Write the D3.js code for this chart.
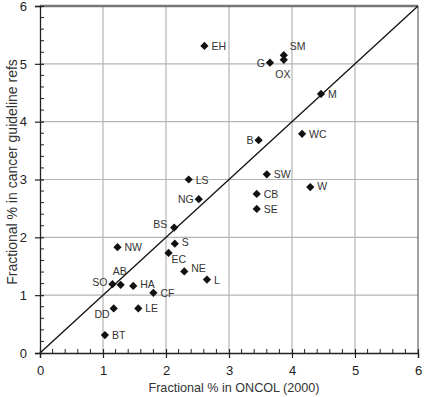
<!DOCTYPE html>
<html>
<head>
<meta charset="utf-8">
<script src="https://cdn.jsdelivr.net/npm/d3@7"></script>
<style>
  body { margin: 0; background: #fff; }
  text { font-family: "Liberation Sans", Arial, sans-serif; }
</style>
</head>
<body>
<svg id="chart" width="424" height="397"></svg>
<script>
// data
const names = ["EH", "SM", "OX", "G", "M", "WC", "B", "SW", "W", "CB", "SE", "LS", "NG", "BS", "S", "EC", "NE", "L", "NW", "SO", "AB", "HA", "CF", "DD", "LE", "BT"];
const oncol = [2.61, 3.87, 3.87, 3.65, 4.46, 4.16, 3.47, 3.60, 4.29, 3.44, 3.44, 2.36, 2.52, 2.13, 2.14, 2.04, 2.29, 2.65, 1.23, 1.15, 1.28, 1.48, 1.80, 1.17, 1.56, 1.03];
const guideline = [5.31, 5.15, 5.07, 5.02, 4.48, 3.79, 3.68, 3.09, 2.87, 2.75, 2.49, 3.00, 2.66, 2.17, 1.89, 1.73, 1.41, 1.27, 1.83, 1.19, 1.18, 1.16, 1.04, 0.77, 0.77, 0.31];
const xTicks = [0, 1, 2, 3, 4, 5, 6];
const yTicks = [0, 1, 2, 3, 4, 5, 6];

// where each label sits relative to its point
const labelPlace = {
  EH: [7, 4, "start"], SM: [6, -5, "start"], OX: [-1, 18, "middle"], G: [-5, 4, "end"],
  M: [7, 4, "start"], WC: [7, 4, "start"], B: [-5, 4, "end"], SW: [7, 4, "start"],
  W: [7, 3, "start"], CB: [7, 4, "start"], SE: [7, 4, "start"], LS: [7, 4, "start"],
  NG: [-5, 4, "end"], BS: [-7, 0, "end"], S: [7, 2, "start"], EC: [3, 10, "start"],
  NE: [7, 1, "start"], L: [7, 4, "start"], NW: [7, 4, "start"], SO: [-5, 2, "end"],
  AB: [-1, -10, "middle"], HA: [7, 2, "start"], CF: [7, 4, "start"], DD: [-4, 10, "end"],
  LE: [7, 4, "start"], BT: [7, 4, "start"]
};

const margin = {top: 6, right: 6, bottom: 44, left: 40};
const width = 424 - margin.left - margin.right;
const height = 397 - margin.top - margin.bottom;

const svg = d3.select("#chart");
const g = svg.append("g").attr("transform", "translate(" + margin.left + "," + margin.top + ")");

const x = d3.scaleLinear().domain([0, 6]).range([0, width]);
const y = d3.scaleLinear().domain([0, 6]).range([height, 0]);

/* grid lines */
g.append("g")
  .selectAll("line.vgrid")
  .data(xTicks.slice(1, -1))
  .enter().append("line")
  .attr("x1", d => x(d)).attr("x2", d => x(d))
  .attr("y1", 0).attr("y2", height)
  .attr("stroke", "#b4b4b4").attr("stroke-width", 1.2);

g.append("g")
  .selectAll("line.hgrid")
  .data(yTicks.slice(1, -1))
  .enter().append("line")
  .attr("x1", 0).attr("x2", width)
  .attr("y1", d => y(d)).attr("y2", d => y(d))
  .attr("stroke", "#b4b4b4").attr("stroke-width", 1.2);

/* frame: thick grey top, thin right */
g.append("line").attr("x1", 0).attr("x2", width).attr("y1", 0).attr("y2", 0)
  .attr("stroke", "#777").attr("stroke-width", 2.5);
g.append("line").attr("x1", width).attr("x2", width).attr("y1", 0).attr("y2", height)
  .attr("stroke", "#444").attr("stroke-width", 1);

/* diagonal y = x */
g.append("line")
  .attr("x1", x(0)).attr("y1", y(0)).attr("x2", x(6)).attr("y2", y(6))
  .attr("stroke", "#111").attr("stroke-width", 1.3);

/* minor ticks (inside) */
const minor = d3.range(0, 30).map(i => i * 0.2).filter(v => Math.abs(v - Math.round(v)) > 1e-6);
g.append("g").selectAll("line")
  .data(minor).enter().append("line")
  .attr("x1", d => x(d)).attr("x2", d => x(d))
  .attr("y1", height).attr("y2", height - 4)
  .attr("stroke", "#222").attr("stroke-width", 1);
g.append("g").selectAll("line")
  .data(minor).enter().append("line")
  .attr("y1", d => y(d)).attr("y2", d => y(d))
  .attr("x1", 0).attr("x2", 4)
  .attr("stroke", "#222").attr("stroke-width", 1);

/* axes */
const xAxis = g.append("g")
  .attr("transform", "translate(0," + height + ")")
  .call(d3.axisBottom(x).tickValues(xTicks).tickSize(5).tickPadding(8).tickFormat(d3.format("d")));
const yAxis = g.append("g")
  .call(d3.axisLeft(y).tickValues(yTicks).tickSize(5).tickPadding(8).tickFormat(d3.format("d")));

[xAxis, yAxis].forEach(function (ax) {
  ax.select(".domain").attr("stroke", "#222").attr("stroke-width", 1.3);
  ax.selectAll(".tick line").attr("stroke", "#222").attr("stroke-width", 1.2);
  ax.selectAll(".tick text").attr("font-size", "13px").attr("fill", "#222")
    .attr("font-family", "Liberation Sans, Arial, sans-serif");
});
// major ticks also go inward a little
xAxis.selectAll(".tick line").attr("y1", -4);
yAxis.selectAll(".tick line").attr("x1", 4);

/* points: square diamonds */
const points = names.map((n, i) => ({name: n, x: oncol[i], y: guideline[i]}));
const diamond = d3.symbol().type(d3.symbolSquare).size(34);

g.append("g").selectAll("path")
  .data(points).enter().append("path")
  .attr("d", diamond)
  .attr("transform", d => "translate(" + x(d.x) + "," + y(d.y) + ") rotate(45)")
  .attr("fill", "#111");

g.append("g").selectAll("text")
  .data(points).enter().append("text")
  .attr("x", d => x(d.x) + labelPlace[d.name][0])
  .attr("y", d => y(d.y) + labelPlace[d.name][1])
  .attr("text-anchor", d => labelPlace[d.name][2])
  .attr("font-size", "10.5px")
  .attr("fill", "#333")
  .text(d => d.name);

/* axis titles */
svg.append("text")
  .attr("x", 234).attr("y", 392)
  .attr("text-anchor", "middle")
  .attr("font-size", "12.6px").attr("fill", "#333")
  .text("Fractional % in ONCOL (2000)");

svg.append("text")
  .attr("transform", "translate(17,172) rotate(-90)")
  .attr("text-anchor", "middle")
  .attr("font-size", "14px").attr("fill", "#333")
  .text("Fractional % in cancer guideline refs");
</script>
</body>
</html>
